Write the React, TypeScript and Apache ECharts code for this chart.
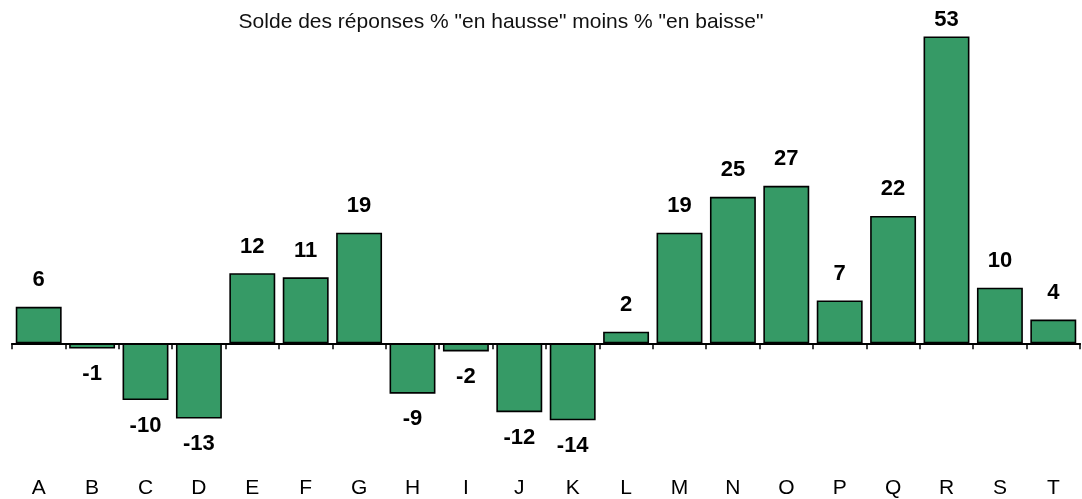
import React, { useEffect, useRef } from "react";
import * as echarts from "echarts";

const categories = ["A", "B", "C", "D", "E", "F", "G", "H", "I", "J", "K", "L", "M", "N", "O", "P", "Q", "R", "S", "T"];
const values = [6.3, -0.9, -9.8, -13.0, 12.1, 11.4, 19.1, -8.7, -1.4, -11.9, -13.3, 2.0, 19.1, 25.3, 27.2, 7.4, 22.0, 53.0, 9.6, 4.1];
const labels = ["6", "-1", "-10", "-13", "12", "11", "19", "-9", "-2", "-12", "-14", "2", "19", "25", "27", "7", "22", "53", "10", "4"];
const subtitle = 'Solde des réponses % "en hausse" moins % "en baisse"';

export default function App() {
  const ref = useRef<HTMLDivElement>(null);
  useEffect(() => {
    if (!ref.current) return;
    const chart = echarts.init(ref.current, null, { renderer: "svg" });
    const font = "'Liberation Sans', Arial, sans-serif";
    const maxVal = Math.max(...values);
    chart.setOption({
      animation: false,
      title: {
        text: subtitle,
        left: 496,
        top: 5,
        textAlign: "center",
        textStyle: { fontFamily: font, fontSize: 21, fontWeight: "normal", color: "#111" },
      },
      grid: { left: 12, right: 2, top: 24.9, bottom: 39.9, outerBoundsMode: "none", containLabel: false },
      xAxis: [
        {
          type: "category",
          data: categories,
          axisLine: { onZero: true, lineStyle: { color: "#000", width: 2 } },
          axisTick: { show: true, alignWithLabel: false, length: 6, lineStyle: { color: "#000", width: 1.5 } },
          axisLabel: { show: false },
        },
        {
          type: "category",
          data: categories,
          position: "bottom",
          axisLine: { show: false, onZero: false },
          axisTick: { show: false },
          axisLabel: { margin: 17, fontFamily: font, fontSize: 21, color: "#000" },
        },
      ],
      yAxis: {
        type: "value",
        min: -20,
        max: 55,
        show: false,
        splitLine: { show: false },
      },
      series: [
        {
          type: "bar",
          xAxisIndex: 0,
          data: values.map((v, i) => ({
            value: v,
            label: {
              show: true,
              position: v >= 0 ? "top" : "bottom",
              distance: v >= 0 ? (v === maxVal ? 7 : 17) : 13,
              formatter: () => labels[i],
            },
          })),
          barCategoryGap: "14%",
          itemStyle: { color: "#369A66", borderColor: "#000", borderWidth: 1.6 },
          label: { fontFamily: font, fontSize: 22, fontWeight: "bold", color: "#000" },
        },
      ],
    });
    return () => chart.dispose();
  }, []);
  return <div ref={ref} style={{ position: "fixed", left: 0, top: 0, width: 1082, height: 499 }} />;
}
